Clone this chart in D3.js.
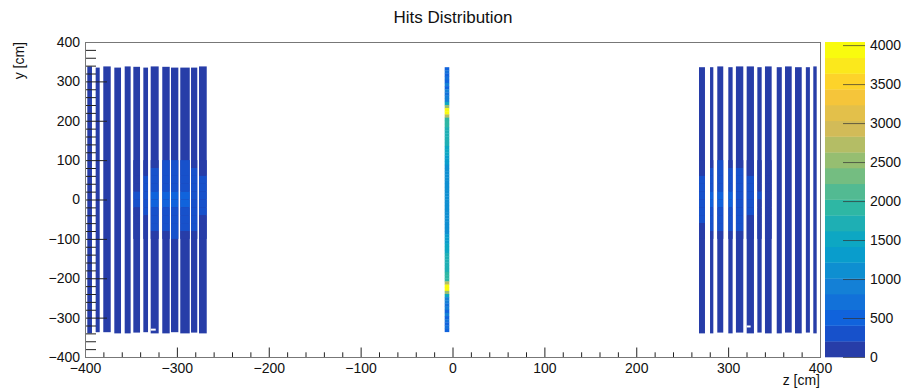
<!DOCTYPE html>
<html>
<head>
<meta charset="utf-8">
<script src="https://cdn.jsdelivr.net/npm/d3@7"></script>
<style>
  body { margin: 0; background: #fff; }
  svg { display: block; font-family: "Liberation Sans", Arial, Helvetica, sans-serif; }
</style>
</head>
<body>
<div id="chart"></div>
<script>
// end-cap strips, [zMin, zMax] in cm, with their y extent
const leftStrips = [[-397.5, -392.4], [-388.4, -384], [-380.1, -372], [-368.1, -360.8], [-356.8, -350.3],
  [-347.4, -340.1], [-336.5, -331.4], [-328.5, -319.8], [-315.9, -307.8], [-306.4, -298.4],
  [-296.3, -286], [-284.6, -277.8], [-275.9, -267.5]];
const leftTop = [338, 335, 338, 335, 338, 337, 335, 338, 337, 335, 335, 335, 338];
const leftBottom = [-340, -337, -337, -340, -340, -338, -337, -340, -340, -337, -340, -338, -340];

const rightStrips = [[268.3, 274.8], [280.3, 283.9], [288.2, 294.7], [300.2, 304.9], [308.5, 316.5],
  [320.2, 328.1], [331.8, 336.5], [340.1, 347.4], [352.9, 358.4], [361.9, 369.2],
  [372.8, 380.1], [384.6, 389], [392.7, 396.4]];
const rightTop = [336, 336, 338, 336, 338, 338, 336, 338, 336, 338, 336, 336, 338];
const rightBottom = [-340, -340, -338, -340, -338, -340, -338, -340, -340, -338, -340, -338, -340];

const stripBaseCount = 110;

// brighter region around y = 0 : rows of 20 cm (top to bottom), one column per strip
const blobYEdges = [100, 80, 60, 40, 20, 0, -20, -40, -60, -80, -100];
const leftBlobStrips = [5, 6, 7, 8, 9, 10, 11, 12];
const leftBlob = [
  [110, 150, 180, 210, 220, 210, 180, 150],
  [130, 180, 220, 250, 260, 250, 220, 180],
  [150, 210, 260, 300, 300, 290, 250, 210],
  [180, 240, 320, 360, 370, 340, 290, 230],
  [210, 300, 420, 450, 460, 420, 330, 250],
  [210, 300, 410, 450, 450, 410, 320, 240],
  [180, 240, 310, 350, 360, 330, 280, 220],
  [150, 200, 250, 290, 290, 280, 240, 200],
  [130, 170, 210, 240, 250, 240, 210, 170],
  [110, 140, 170, 200, 210, 200, 170, 140]
];
const rightBlobStrips = [0, 1, 2, 3, 4, 5, 6, 7];
const rightBlob = [
  [150, 200, 210, 200, 180, 150, 130, 110],
  [180, 240, 260, 250, 220, 180, 150, 120],
  [220, 280, 310, 300, 260, 210, 170, 130],
  [250, 340, 370, 350, 300, 240, 190, 140],
  [280, 430, 460, 440, 360, 270, 210, 150],
  [280, 420, 450, 430, 350, 260, 200, 150],
  [250, 330, 360, 340, 290, 230, 180, 140],
  [210, 270, 300, 290, 250, 200, 160, 130],
  [170, 230, 250, 240, 210, 170, 140, 120],
  [140, 190, 200, 190, 170, 140, 120, 110]
];

// empty bins inside the strips: [zMin, zMax, yMin, yMax]
const deadCells = [[-328.5, -323, -333, -328], [320.2, 324.5, -325, -320]];

// central barrel strip, 8 cm bins from y = 336 downwards
const centerZ = [-8.5, -3.5];
const centerYTop = 336;
const centerBin = 8;
const centerCounts = [
  450, 700, 480, 760, 520, 820, 600, 900, 700, 1000, 850, 1500, 2600, 3950, 4040, 2700,
  1900, 1850, 1850, 1800, 1800, 1750, 1700, 1700, 1650, 1600, 1550, 1450,
  1350, 1300, 1250, 1200, 1200, 1150, 1150, 1100, 1100, 1100, 1050, 1050, 1050, 1050,
  1050, 1050, 1050, 1050, 1100, 1100, 1100, 1150, 1150, 1200, 1200, 1250, 1300, 1350,
  1450, 1550, 1600, 1650, 1700, 1700, 1750, 1800, 1800, 1850, 1850, 1900,
  2700, 4040, 3950, 2600, 1500, 850, 1000, 700, 900, 600, 820, 520, 760, 480, 700, 450
];

const xTicks = [-400, -300, -200, -100, 0, 100, 200, 300, 400];
const yTicks = [-400, -300, -200, -100, 0, 100, 200, 300, 400];
const zTicks = [0, 500, 1000, 1500, 2000, 2500, 3000, 3500, 4000];
const zMax = 4040;
const nContours = 20;

const width = 907, height = 388;
const frame = { left: 85, right: 820, top: 42, bottom: 357 };
const fmt = d => (d < 0 ? "\u2212" + Math.abs(d) : String(d));

const svg = d3.select("#chart").append("svg")
  .attr("width", width)
  .attr("height", height);

const x = d3.scaleLinear().domain([-400, 400]).range([frame.left, frame.right]);
const y = d3.scaleLinear().domain([-400, 400]).range([frame.bottom, frame.top]);
const zScale = d3.scaleLinear().domain([0, zMax]).range([frame.bottom, frame.top]);

// ROOT kBird palette
const bird = d3.scaleLinear()
  .domain([0, 0.125, 0.25, 0.375, 0.5, 0.625, 0.75, 0.875, 1])
  .range(["rgb(53,42,135)", "rgb(15,92,221)", "rgb(20,129,214)", "rgb(6,164,202)", "rgb(46,183,164)",
    "rgb(135,191,119)", "rgb(209,187,89)", "rgb(254,200,50)", "rgb(249,251,14)"])
  .interpolate(d3.interpolateRgb);
const contour = d3.scaleQuantize().domain([0, zMax]).range(d3.range(nContours));
const bandColor = i => bird(Math.floor((i + 0.99) * 255 / nContours) / 254);
const fill = v => bandColor(contour(Math.min(v, zMax - 1)));

const plot = svg.append("g");

function drawSide(strips, tops, bottoms) {
  plot.append("g").selectAll("rect")
    .data(strips)
    .join("rect")
    .attr("x", d => x(d[0]))
    .attr("width", d => x(d[1]) - x(d[0]))
    .attr("y", (d, i) => y(tops[i]))
    .attr("height", (d, i) => y(bottoms[i]) - y(tops[i]))
    .attr("fill", fill(stripBaseCount));
}
drawSide(leftStrips, leftTop, leftBottom);
drawSide(rightStrips, rightTop, rightBottom);

function drawBlob(strips, cols, rows) {
  const cells = [];
  rows.forEach((row, r) => row.forEach((v, c) => {
    const s = strips[cols[c]];
    cells.push({ z0: s[0], z1: s[1], y0: blobYEdges[r + 1], y1: blobYEdges[r], v });
  }));
  plot.append("g").selectAll("rect")
    .data(cells)
    .join("rect")
    .attr("x", d => x(d.z0))
    .attr("width", d => x(d.z1) - x(d.z0))
    .attr("y", d => y(d.y1))
    .attr("height", d => y(d.y0) - y(d.y1))
    .attr("fill", d => fill(d.v));
}
drawBlob(leftStrips, leftBlobStrips, leftBlob);
drawBlob(rightStrips, rightBlobStrips, rightBlob);

plot.append("g").selectAll("rect")
  .data(deadCells)
  .join("rect")
  .attr("x", d => x(d[0]))
  .attr("width", d => x(d[1]) - x(d[0]))
  .attr("y", d => y(d[3]))
  .attr("height", d => y(d[2]) - y(d[3]))
  .attr("fill", "#fff");

// central strip
plot.append("g").selectAll("rect")
  .data(centerCounts)
  .join("rect")
  .attr("x", x(centerZ[0]))
  .attr("width", x(centerZ[1]) - x(centerZ[0]))
  .attr("y", (d, i) => y(centerYTop - i * centerBin))
  .attr("height", y(0) - y(centerBin) + 0.3)
  .attr("fill", d => fill(d));

// axes, ticks pointing into the frame
const xMinor = d3.range(-400, 401, 20).filter(v => v % 100 !== 0);
const yMinor = xMinor;

const xAxis = svg.append("g").attr("transform", `translate(0,${frame.bottom})`);
xAxis.call(d3.axisBottom(x).tickValues(xTicks).tickSize(-9.5).tickPadding(6).tickFormat(fmt));
xAxis.append("g").call(d3.axisBottom(x).tickValues(xMinor).tickSize(-4.7).tickFormat(""));

const yAxis = svg.append("g").attr("transform", `translate(${frame.left},0)`);
yAxis.call(d3.axisLeft(y).tickValues(yTicks).tickSize(-22).tickPadding(5).tickFormat(fmt));
yAxis.append("g").call(d3.axisLeft(y).tickValues(yMinor).tickSize(-11).tickFormat(""));

svg.selectAll(".domain").remove();
svg.selectAll(".tick line").attr("stroke", "#222");
svg.selectAll(".tick text").attr("font-size", 14).attr("fill", "#111")
  .attr("font-family", "'Liberation Sans', Arial, sans-serif");

svg.append("rect")
  .attr("x", frame.left + 0.5)
  .attr("y", frame.top + 0.5)
  .attr("width", frame.right - frame.left)
  .attr("height", frame.bottom - frame.top)
  .attr("fill", "none")
  .attr("stroke", "#777");

// colour bar
const bar = { x0: 825, x1: 865 };
svg.append("g").selectAll("rect")
  .data(d3.range(nContours))
  .join("rect")
  .attr("x", bar.x0)
  .attr("width", bar.x1 - bar.x0)
  .attr("y", i => zScale((i + 1) * zMax / nContours))
  .attr("height", i => zScale(i * zMax / nContours) - zScale((i + 1) * zMax / nContours) + 0.3)
  .attr("fill", i => bandColor(i));

const zAxis = svg.append("g").attr("transform", `translate(${bar.x1},0)`);
zAxis.call(d3.axisRight(zScale).tickValues(zTicks).tickSize(-22).tickPadding(5).tickFormat(d3.format("d")));
zAxis.select(".domain").remove();
zAxis.selectAll(".tick line").attr("stroke", "#333").attr("stroke-opacity", 0.7);
zAxis.selectAll(".tick text").attr("font-size", 14).attr("fill", "#111")
  .attr("font-family", "'Liberation Sans', Arial, sans-serif");

// titles
svg.append("text")
  .attr("x", 453).attr("y", 23)
  .attr("text-anchor", "middle")
  .attr("font-size", 17).attr("fill", "#111")
  .text("Hits Distribution");

svg.append("text")
  .attr("x", frame.right).attr("y", 385)
  .attr("text-anchor", "end")
  .attr("font-size", 14).attr("fill", "#111")
  .text("z [cm]");

svg.append("text")
  .attr("transform", `translate(24,${frame.top}) rotate(-90)`)
  .attr("text-anchor", "end")
  .attr("font-size", 14).attr("fill", "#111")
  .text("y [cm]");
</script>
</body>
</html>
